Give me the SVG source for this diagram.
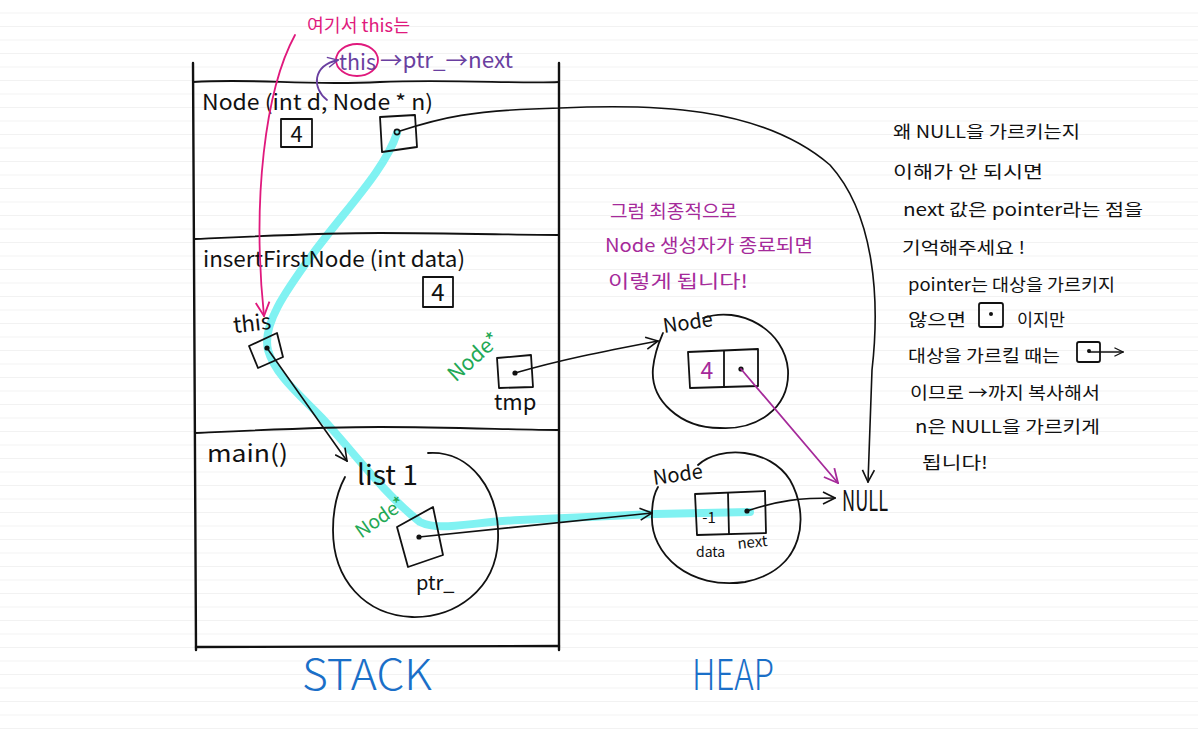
<svg xmlns="http://www.w3.org/2000/svg" width="1198" height="732" viewBox="0 0 1198 732">
<defs>
<pattern id="ruled" x="0" y="0" width="1198" height="13.5" patternUnits="userSpaceOnUse">
<rect x="0" y="13" width="1198" height="2" fill="#e6e6e6"/>
</pattern>
<marker id="ahBlack" viewBox="0 0 14 14" refX="13" refY="7" markerWidth="14" markerHeight="14" markerUnits="userSpaceOnUse" orient="auto"><path d="M1,1 L13,7 L1,13" fill="none" stroke="#111" stroke-width="1.6"/></marker>
<marker id="ahMag" viewBox="0 0 14 14" refX="13" refY="7" markerWidth="16" markerHeight="16" markerUnits="userSpaceOnUse" orient="auto"><path d="M1,1 L13,7 L1,13" fill="none" stroke="#a52a9a" stroke-width="1.6"/></marker>
<marker id="ahPink" viewBox="0 0 14 14" refX="13" refY="7" markerWidth="16" markerHeight="16" markerUnits="userSpaceOnUse" orient="auto"><path d="M1,1 L13,7 L1,13" fill="none" stroke="#e0197d" stroke-width="1.6"/></marker>
<marker id="ahPurple" viewBox="0 0 14 14" refX="13" refY="7" markerWidth="12" markerHeight="12" markerUnits="userSpaceOnUse" orient="auto"><path d="M1,1 L13,7 L1,13" fill="none" stroke="#6a3fa0" stroke-width="1.6"/></marker>
<marker id="ahSmall" viewBox="0 0 14 14" refX="13" refY="7" markerWidth="10" markerHeight="10" markerUnits="userSpaceOnUse" orient="auto"><path d="M1,1 L13,7 L1,13" fill="none" stroke="#111" stroke-width="1.6"/></marker>
</defs>
<style>
text{font-family:"Noto Sans CJK KR","Liberation Sans",sans-serif;fill:#111}
.hand{font-size:22px}
.note{font-size:17px}
.mag{fill:#a52a9a}
.pink{fill:#e0197d}
.purple{fill:#6a3fa0}
.green{fill:#22a855}
.blue{fill:#1a6fc8}
.line{fill:none;stroke:#111;stroke-width:1.8;stroke-linecap:round;stroke-linejoin:round}
.frame{fill:none;stroke:#111;stroke-width:2.4;stroke-linecap:round}
.box{fill:none;stroke:#111;stroke-width:1.8;stroke-linejoin:round}
.dot{fill:#111}
.conn{fill:none;stroke:#111;stroke-width:1.6;stroke-linecap:round}
.conn-mag{fill:none;stroke:#a52a9a;stroke-width:1.8;stroke-linecap:round}
.conn-pink{fill:none;stroke:#e0197d;stroke-width:1.8;stroke-linecap:round}
.conn-purple{fill:none;stroke:#6a3fa0;stroke-width:1.8;stroke-linecap:round}
</style>
<rect width="1198" height="732" fill="#ffffff"/>
<rect width="1198" height="732" fill="url(#ruled)"/>

<!-- cyan highlight -->
<path id="highlight" d="M397,133 C 385,170 345,210 312,255 C 285,292 262,325 268,350 C 275,375 300,395 322,418 C 350,448 385,495 420,522 C 440,532 470,522 520,520 L 655,514 L 750,512" fill="none" stroke="#80f2f2" stroke-width="8" stroke-linecap="round" stroke-linejoin="round"/>

<!-- stack frame -->
<g id="stack">
<path class="frame" d="M193,63 L196,650"/>
<path class="frame" d="M559,63 L559,650"/>
<path class="frame" d="M196,647 L559,646"/>
<path class="line" d="M193,82 C 260,78 300,86 380,82 C 450,79 520,84 559,82"/>
<path class="line" d="M195,239 C 260,236 320,233 380,233 C 450,233 520,235 558,235"/>
<path class="line" d="M195,433 C 260,430 320,427 380,427 C 450,427 520,430 558,430"/>
<text x="302" y="690" class="blue" font-size="42" textLength="130" lengthAdjust="spacingAndGlyphs" font-weight="300">STACK</text>
</g>

<g id="frame-node-ctor">
<text x="202" y="110" font-size="21" textLength="231" lengthAdjust="spacingAndGlyphs">Node (int d, Node * n)</text>
<rect class="box" x="281" y="119" width="31" height="28"/>
<text x="296.5" y="142" font-size="22" text-anchor="middle">4</text>
<polygon class="box" points="380,117 415,115 417,147 382,152"/>
<circle cx="397" cy="132" r="2.6" fill="none" stroke="#111" stroke-width="1.6"/>
</g>

<g id="frame-insert">
<text x="203" y="267" class="hand" textLength="262" lengthAdjust="spacingAndGlyphs">insertFirstNode (int data)</text>
<rect class="box" x="423" y="277" width="30" height="30"/>
<text x="438" y="301" font-size="24" text-anchor="middle">4</text>
<text x="234" y="333" class="hand" transform="rotate(-6 234 333)">this</text>
<polygon class="box" points="249,346 277,333 283,357 258,368"/>
<circle class="dot" cx="267" cy="348" r="2.6"/>
<text x="474" y="364" class="green" font-size="21" text-anchor="middle" transform="rotate(-42 474 357)">Node*</text>
<polygon class="box" points="497,358 531,355 533,387 499,388"/>
<circle class="dot" cx="515" cy="373" r="2.6"/>
<text x="494" y="410" class="hand">tmp</text>
</g>

<g id="frame-main">
<text x="207" y="462" font-size="24" textLength="81" lengthAdjust="spacingAndGlyphs">main()</text>
<path class="line" d="M428,453 C 470,450 500,490 498,540 C 496,590 455,618 412,617 C 365,615 333,580 333,530 C 333,505 338,490 345,477"/>
<text x="357" y="485" font-size="28" textLength="61" lengthAdjust="spacingAndGlyphs">list 1</text>
<text x="380" y="524" class="green" font-size="19" text-anchor="middle" transform="rotate(-35 380 517)">Node*</text>
<polygon class="box" points="397,527 433,507 443,555 408,567"/>
<circle class="dot" cx="419" cy="537" r="2.6"/>
<text x="416" y="590" font-size="20">ptr_</text>
</g>

<!-- heap -->
<g id="heap-node-1">
<path class="line" d="M703,318 C 740,305 785,330 788,370 C 790,410 755,430 720,428 C 680,428 650,400 653,368 C 655,350 660,340 663,333"/>
<text x="664" y="333" font-size="20" transform="rotate(-8 664 333)">Node</text>
<polygon class="box" points="688,352 758,349 758,386 690,388"/>
<path class="line" d="M724,351 L724,387"/>
<text x="707" y="379" class="mag" font-size="23" text-anchor="middle">4</text>
<circle class="dot" cx="741" cy="369" r="2.6"/>
</g>

<g id="heap-node-2">
<path class="line" d="M698,465 C 720,445 770,448 790,480 C 810,515 805,570 745,582 C 690,590 650,555 652,515 C 652,500 655,492 658,487"/>
<text x="654" y="485" font-size="20" transform="rotate(-8 654 485)">Node</text>
<polygon class="box" points="695,494 765,491 766,533 697,535"/>
<path class="line" d="M728,493 L729,534"/>
<text x="709" y="523" font-size="15" text-anchor="middle">-1</text>
<circle class="dot" cx="747" cy="511" r="2.6"/>
<text x="696" y="557" font-size="14">data</text>
<text x="738" y="549" font-size="15" transform="rotate(-6 738 549)">next</text>
<text x="692" y="690" class="blue" font-size="42" textLength="82" lengthAdjust="spacingAndGlyphs" font-weight="300">HEAP</text>
</g>

<g id="null">
<text x="842" y="511" font-size="28" textLength="46" lengthAdjust="spacingAndGlyphs">NULL</text>
</g>

<!-- annotations -->
<g id="note-this">
<text x="307" y="32" class="pink" font-size="18" textLength="103" lengthAdjust="spacingAndGlyphs">여기서 this는</text>
<ellipse cx="357" cy="60" rx="21" ry="16" fill="none" stroke="#e0197d" stroke-width="1.8"/>
<text x="339" y="70" class="purple" font-size="22" textLength="37" lengthAdjust="spacingAndGlyphs">this</text>
<text x="380" y="68" class="purple" font-size="22" textLength="133" lengthAdjust="spacingAndGlyphs">→ptr_→next</text>
</g>

<g id="note-middle">
<text x="610" y="218" class="mag" font-size="18" textLength="127" lengthAdjust="spacingAndGlyphs">그럼 최종적으로</text>
<text x="605" y="252" class="mag" font-size="18" textLength="208" lengthAdjust="spacingAndGlyphs">Node 생성자가 종료되면</text>
<text x="608" y="288" class="mag" font-size="18" textLength="140" lengthAdjust="spacingAndGlyphs">이렇게 됩니다!</text>
</g>

<g id="note-right">
<text x="893" y="138" class="note" textLength="187" lengthAdjust="spacingAndGlyphs">왜 NULL을 가르키는지</text>
<text x="893" y="178" class="note" textLength="150" lengthAdjust="spacingAndGlyphs">이해가 안 되시면</text>
<text x="903" y="216" class="note" textLength="240" lengthAdjust="spacingAndGlyphs">next 값은 pointer라는 점을</text>
<text x="902" y="254" class="note" textLength="123" lengthAdjust="spacingAndGlyphs">기억해주세요 !</text>
<text x="908" y="291" class="note" textLength="207" lengthAdjust="spacingAndGlyphs">pointer는 대상을 가르키지</text>
<text x="908" y="326" class="note" textLength="58" lengthAdjust="spacingAndGlyphs">않으면</text>
<rect class="box" x="979" y="303" width="24" height="24" rx="2"/>
<circle class="dot" cx="991" cy="314" r="2"/>
<text x="1017" y="326" class="note" textLength="48" lengthAdjust="spacingAndGlyphs">이지만</text>
<text x="908" y="362" class="note" textLength="152" lengthAdjust="spacingAndGlyphs">대상을 가르킬 때는</text>
<rect class="box" x="1077" y="342" width="23" height="20" rx="2"/>
<circle class="dot" cx="1089" cy="351" r="2"/>
<path class="conn" d="M1089,352 L1123,352" marker-end="url(#ahSmall)"/>
<text x="910" y="399" class="note" textLength="190" lengthAdjust="spacingAndGlyphs">이므로 →까지 복사해서</text>
<text x="915" y="433" class="note" textLength="185" lengthAdjust="spacingAndGlyphs">n은 NULL을 가르키게</text>
<text x="922" y="469" class="note" textLength="66" lengthAdjust="spacingAndGlyphs">됩니다!</text>
</g>

<!-- connectors -->
<g id="connectors">
<path class="conn" d="M400,131 C 440,118 470,110 560,108 C 650,104 760,105 830,165 C 875,215 880,300 872,370 L 868,482" marker-end="url(#ahBlack)"/>
<path class="conn" d="M267,348 L347,461" marker-end="url(#ahBlack)"/>
<path class="conn" d="M515,373 C 560,360 600,352 658,341" marker-end="url(#ahBlack)"/>
<path class="conn" d="M419,537 L652,513" marker-end="url(#ahBlack)"/>
<path class="conn" d="M747,511 C 780,500 800,498 835,498" marker-end="url(#ahBlack)"/>
<path class="conn-mag" d="M741,369 L838,483" marker-end="url(#ahMag)"/>
<path class="conn-pink" d="M295,35 C 265,90 252,200 264,316" marker-end="url(#ahPink)"/>
<path class="conn-purple" d="M327,100 C 312,88 312,66 338,60" marker-end="url(#ahPurple)"/>
</g>
</svg>
